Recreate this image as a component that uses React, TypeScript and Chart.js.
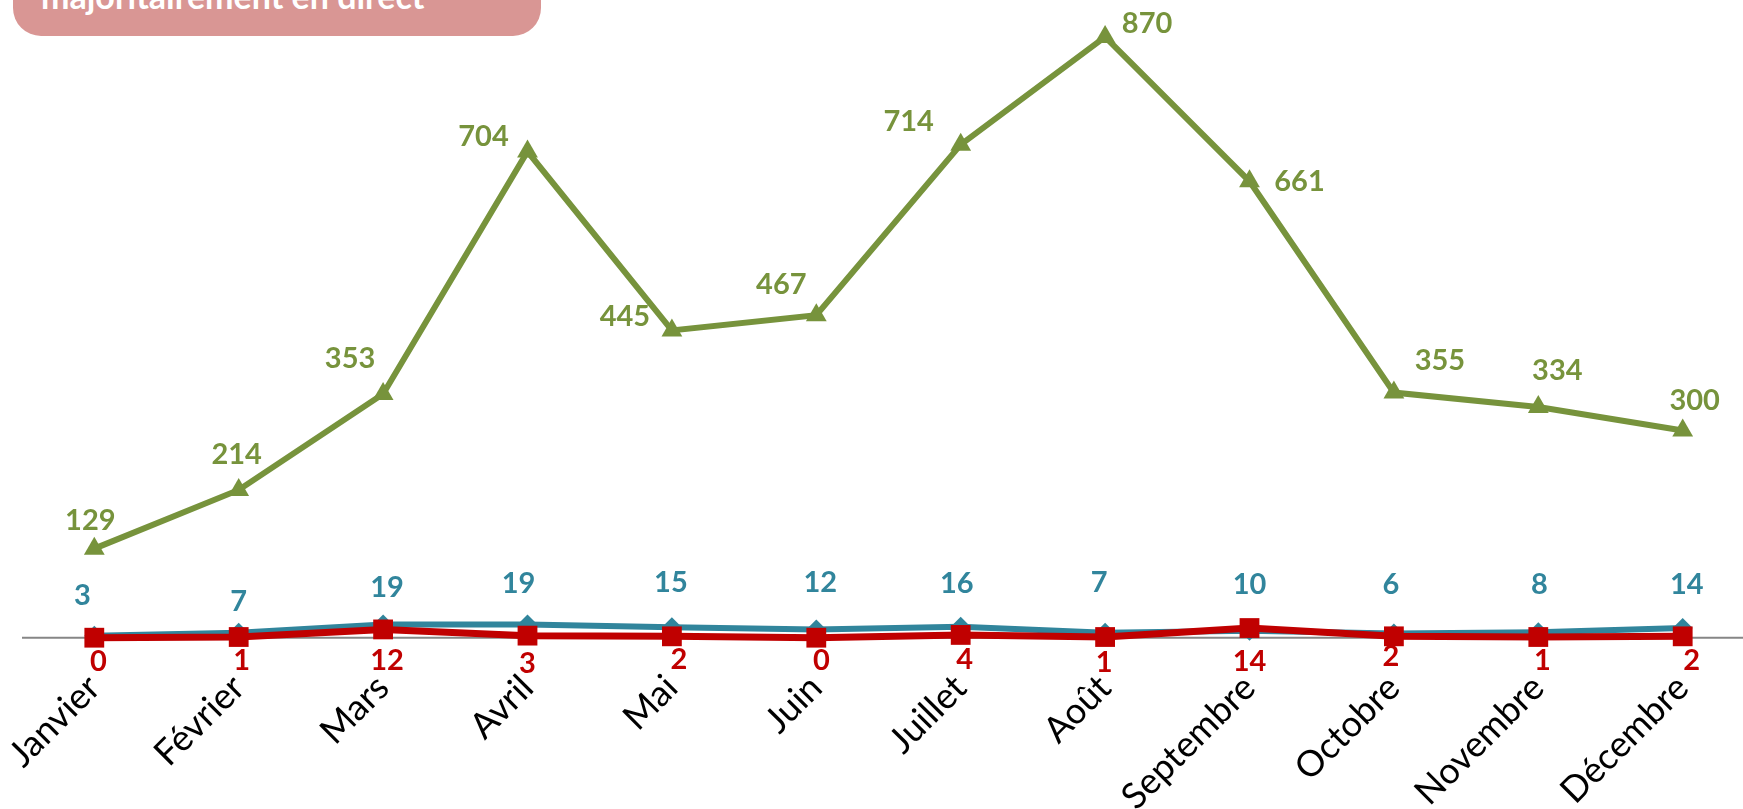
import React, { useEffect, useRef } from "react";
import { Chart, registerables } from "chart.js";

Chart.register(...registerables);

// ---- data ----
const months = ["Janvier", "Février", "Mars", "Avril", "Mai", "Juin", "Juillet", "Août", "Septembre", "Octobre", "Novembre", "Décembre"];
const greenValues = [129, 214, 353, 704, 445, 467, 714, 870, 661, 355, 334, 300];
const blueValues = [3, 7, 19, 19, 15, 12, 16, 7, 10, 6, 8, 14];
const redValues = [0, 1, 12, 3, 2, 0, 4, 1, 14, 2, 1, 2];
const titleText = "majoritairement en direct";

// ---- label placement (style) ----
const greenLabelDx = [-4, -2, -33, -44, -47, -35, -52, 42, 50, 46, 19, 12];
const greenLabelDy = [-29, -36, -36, -16, -14, -31, -24, -14, 0, -33, -37, -31];
const blueLabelDx = [-12, 0, 4, -9, -1, 4, -4, -6, 0, -3, 1, 4];
const blueLabelDy = [-41, -32, -38, -42, -45, -47, -44, -51, -47, -50, -48, -44];
const redLabelDx = [4, 3, 4, 0, 7, 5, 4, -1, 0, -3, 4, 9];
const redLabelDy = [23, 23, 31, 27, 23, 22, 24, 25, 33, 20, 23, 24];

const GREEN = "#77933C";
const BLUE = "#31859C";
const RED = "#C00000";

const W = 1743;
const H = 809;

const labelsPlugin = {
  id: "customLabels",
  beforeDatasetsDraw(chart: any) {
    const ctx = chart.ctx;
    const y0 = chart.scales.y.getPixelForValue(0);
    ctx.save();
    ctx.strokeStyle = "#868686";
    ctx.lineWidth = 2;
    ctx.beginPath();
    ctx.moveTo(22, y0);
    ctx.lineTo(W, y0);
    ctx.stroke();
    ctx.restore();
  },
  afterDatasetsDraw(chart: any) {
    const ctx = chart.ctx;
    ctx.save();
    ctx.font = "bold 29px Lato";
    ctx.textAlign = "center";
    ctx.textBaseline = "alphabetic";
    chart.data.datasets.forEach((ds: any, di: number) => {
      const meta = chart.getDatasetMeta(di);
      const dxs = ds.labelDx as number[];
      const dys = ds.labelDy as number[];
      ctx.fillStyle = ds.labelColor;
      meta.data.forEach((pt: any, i: number) => {
        const x = pt.x + dxs[i];
        const y = pt.y + dys[i];
        ctx.fillText(String(ds.data[i]), x, y + 10);
      });
    });
    // x-axis labels, rotated
    const xs = chart.scales.x;
    ctx.font = "36px Lato";
    ctx.fillStyle = "#000000";
    ctx.textAlign = "right";
    ctx.textBaseline = "alphabetic";
    months.forEach((m, i) => {
      const x = xs.getPixelForValue(i);
      ctx.save();
      ctx.translate(x + 8, 690);
      ctx.rotate(-Math.PI / 4);
      ctx.fillText(m, 0, 0);
      ctx.restore();
    });
    ctx.restore();
  },
};

export default function App() {
  const ref = useRef<HTMLCanvasElement>(null);

  useEffect(() => {
    if (!ref.current) return;
    const chart = new Chart(ref.current, {
      type: "line",
      data: {
        labels: months,
        datasets: [
          {
            label: "Rouge",
            data: redValues,
            borderColor: RED,
            backgroundColor: RED,
            borderWidth: 7,
            pointStyle: "rect",
            pointRadius: 14,
            pointBorderWidth: 0,
            tension: 0,
            clip: false,
            order: 0,
            labelDx: redLabelDx,
            labelDy: redLabelDy,
            labelColor: RED,
          } as any,
          {
            label: "Bleu",
            data: blueValues,
            borderColor: BLUE,
            backgroundColor: BLUE,
            borderWidth: 6,
            pointStyle: "rectRot",
            pointRadius: 10,
            pointBorderWidth: 0,
            tension: 0,
            clip: false,
            order: 1,
            labelDx: blueLabelDx,
            labelDy: blueLabelDy,
            labelColor: BLUE,
          } as any,
          {
            label: "Vert",
            data: greenValues,
            borderColor: GREEN,
            backgroundColor: GREEN,
            borderWidth: 6,
            pointStyle: "triangle",
            pointRadius: 12,
            pointBorderWidth: 0,
            tension: 0,
            clip: false,
            order: 2,
            labelDx: greenLabelDx,
            labelDy: greenLabelDy,
            labelColor: GREEN,
          } as any,
        ],
      },
      options: {
        responsive: false,
        animation: false,
        devicePixelRatio: 1,
        layout: { padding: { left: 94.3, right: 60.3, top: 16.25, bottom: 171.3 } },
        scales: {
          x: { type: "category", offset: false, display: false },
          y: { min: 0, max: 900, display: false },
        },
        plugins: {
          legend: { display: false },
          tooltip: { enabled: false },
          title: { display: false },
        },
        events: [],
      },
      plugins: [labelsPlugin],
    });
    return () => chart.destroy();
  }, []);

  return (
    <div style={{ position: "fixed", left: 0, top: 0, width: W, height: H, background: "#ffffff", overflow: "hidden" }}>
      <canvas ref={ref} width={W} height={H} style={{ position: "absolute", left: 0, top: 0, display: "block" }} />
      <div
        style={{
          position: "absolute",
          left: 12.5,
          top: -61,
          width: 528.5,
          height: 97,
          borderRadius: 28,
          background: "#D99694",
          overflow: "hidden",
        }}
      >
        <div
          style={{
            position: "absolute",
            left: 28.5,
            top: 36,
            fontFamily: "Lato",
            fontWeight: "bold",
            fontSize: 34,
            lineHeight: "normal",
            color: "#ffffff",
            whiteSpace: "nowrap",
          }}
        >
          {titleText}
        </div>
      </div>
    </div>
  );
}
